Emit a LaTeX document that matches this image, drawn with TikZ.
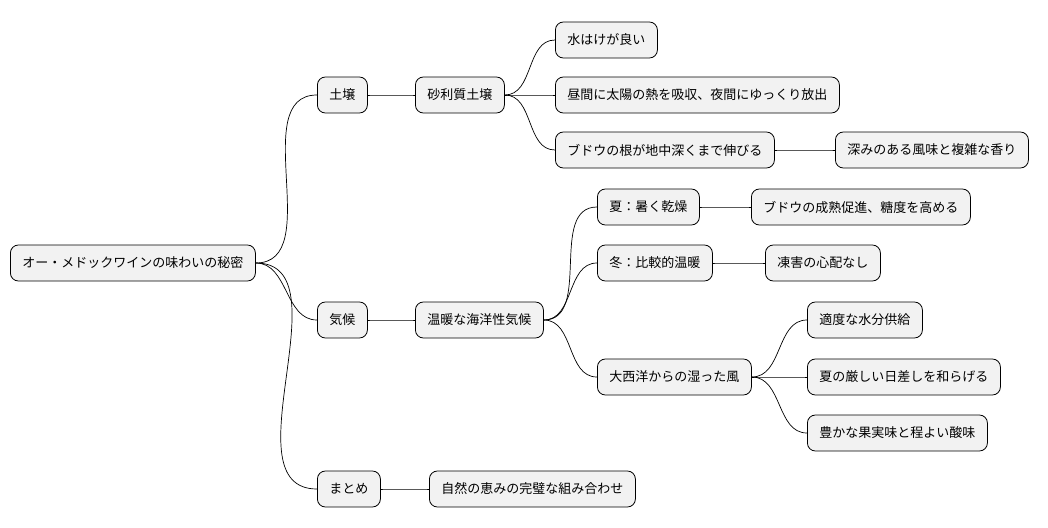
\documentclass[tikz,border=0pt]{standalone}
\usepackage{fontspec}
\setmainfont{Noto Sans CJK JP}
\begin{document}
\begin{tikzpicture}[x=1pt,y=-1pt,
 n/.style={draw=black,line width=0.8pt,fill=black!5,rounded corners=8pt,minimum height=36pt,inner xsep=12pt,anchor=west,font=\fontsize{13}{15}\selectfont},
 c/.style={line width=0.7pt}]
\useasboundingbox (0,0) rectangle (1048,527);
\node[n] (r) at (10,263) {オー・メドックワインの味わいの秘密};
\node[n] (s) at (317,95) {土壌};
\node[n] (s1) at (415,95) {砂利質土壌};
\node[n] (s11) at (555,40) {水はけが良い};
\node[n] (s12) at (555,95) {昼間に太陽の熱を吸収、夜間にゆっくり放出};
\node[n] (s13) at (555,150) {ブドウの根が地中深くまで伸びる};
\node[n] (s131) at (835,150) {深みのある風味と複雑な香り};
\node[n] (k) at (317,320) {気候};
\node[n] (k1) at (415,320) {温暖な海洋性気候};
\node[n] (k11) at (597,207) {夏：暑く乾燥};
\node[n] (k111) at (751,207) {ブドウの成熟促進、糖度を高める};
\node[n] (k12) at (597,263) {冬：比較的温暖};
\node[n] (k121) at (765,263) {凍害の心配なし};
\node[n] (k13) at (597,377) {大西洋からの湿った風};
\node[n] (k131) at (807,320) {適度な水分供給};
\node[n] (k132) at (807,377) {夏の厳しい日差しを和らげる};
\node[n] (k133) at (807,433) {豊かな果実味と程よい酸味};
\node[n] (m) at (317,489) {まとめ};
\node[n] (m1) at (429,489) {自然の恵みの完璧な組み合わせ};
\foreach \a/\b in {r/s,r/k,r/m,s/s1,s1/s11,s1/s12,s1/s13,s13/s131,k/k1,k1/k11,k1/k12,k1/k13,k11/k111,k12/k121,k13/k131,k13/k132,k13/k133,m/m1}
 \draw[c] (\a.east) to[out=0,in=180] (\b.west);
\end{tikzpicture}
\end{document}
